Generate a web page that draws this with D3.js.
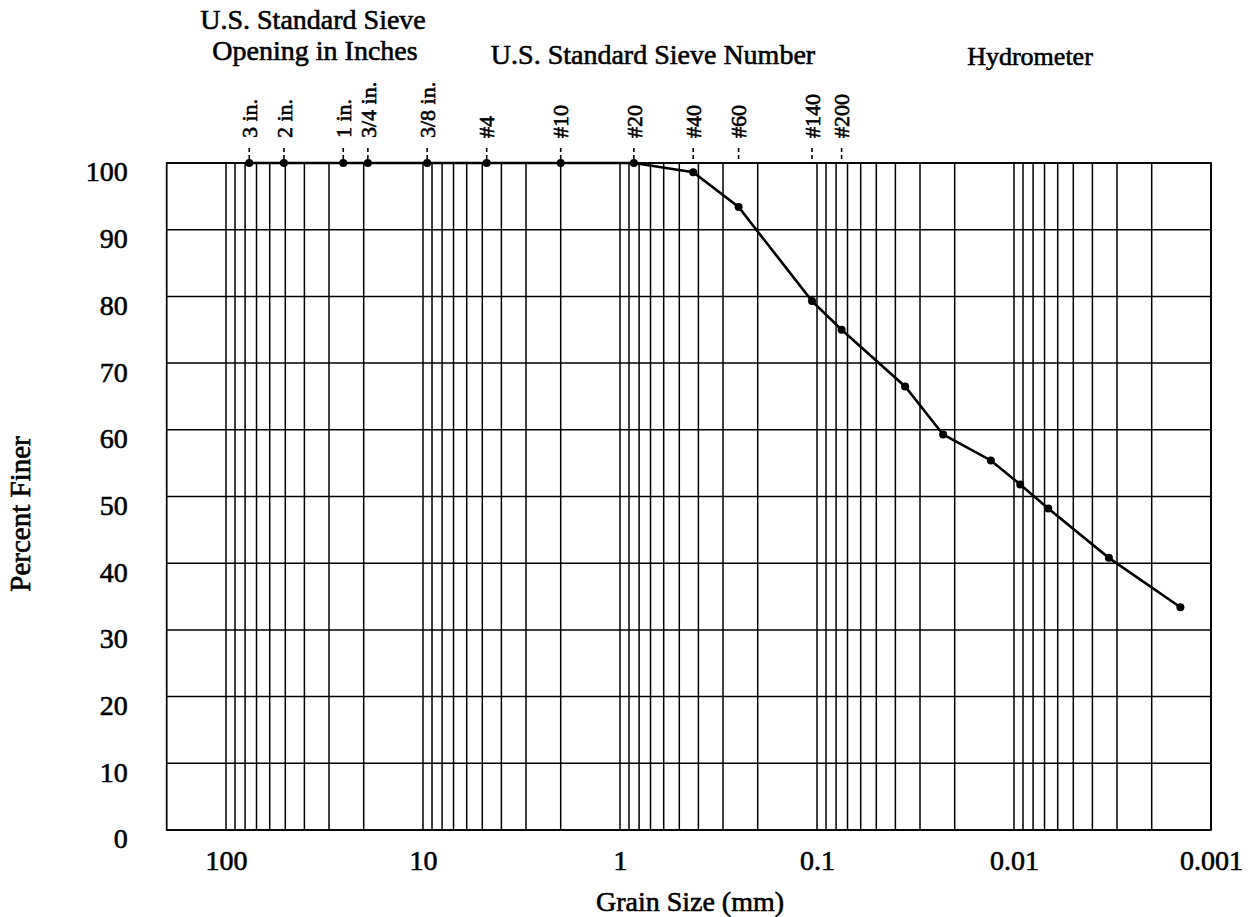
<!DOCTYPE html>
<html>
<head>
<meta charset="utf-8">
<script src="https://cdn.jsdelivr.net/npm/d3@7"></script>
<style>
  body { margin: 0; background: #fff; }
  svg { display: block; font-family: "Liberation Serif", "Times New Roman", serif; }
  svg text { fill: #000; stroke: #000; stroke-width: 0.6; }
  .grid line { stroke: #000; stroke-width: 1.5; }
</style>
</head>
<body>
<svg id="chart" width="1250" height="917"></svg>
<script>
// sieve analysis
var sieveLabels = ["3 in.", "2 in.", "1 in.", "3/4 in.", "3/8 in.", "#4", "#10", "#20", "#40", "#60", "#140", "#200"];
var sieveSizes = [76.2, 50.8, 25.4, 19.05, 9.525, 4.75, 2.0, 0.85, 0.425, 0.25, 0.106, 0.075];
var sievePercent = [100, 100, 100, 100, 100, 100, 100, 100, 98.6, 93.4, 79.3, 75.0];

// hydrometer readings
var hydroSizes = [0.0357, 0.0229, 0.0131, 0.0093, 0.0067, 0.0033, 0.00143];
var hydroPercent = [66.5, 59.3, 55.4, 51.8, 48.2, 40.8, 33.4];

// axes
var xTicks = [100, 10, 1, 0.1, 0.01, 0.001];
var xTickLabels = ["100", "10", "1", "0.1", "0.01", "0.001"];
var yTicks = [0, 10, 20, 30, 40, 50, 60, 70, 80, 90, 100];

var svg = d3.select('#chart');

var x = d3.scaleLog().domain([100, 0.001]).range([226, 1211]),
  y = d3.scaleLinear().domain([0, 100]).range([830, 163]),
  xMin = 200, xMax = 0.001;

var pLeft = x(xMin), pRight = x(xMax), pTop = y(100), pBottom = y(0);

// vertical grid: 1..9 x each decade
var vLines = [];
d3.range(-3, 2).forEach(function(k) {
  d3.range(1, 10).forEach(function(i) {
    var v = i * Math.pow(10, k);
    if (v <= xMin && v >= xMax) vLines.push(+v.toPrecision(3));
  });
});
vLines.push(100);

var grid = svg.append('g').attr('class', 'grid');
grid.selectAll('line.v').data(vLines)
  .enter().append('line')
    .attr('class', 'v')
    .attr('x1', function(d) { return x(d); })
    .attr('x2', function(d) { return x(d); })
    .attr('y1', pTop)
    .attr('y2', pBottom);

grid.selectAll('line.h').data(yTicks)
  .enter().append('line')
    .attr('class', 'h')
    .attr('x1', pLeft)
    .attr('x2', pRight)
    .attr('y1', function(d) { return y(d); })
    .attr('y2', function(d) { return y(d); });

svg.append('rect')
  .attr('x', pLeft).attr('y', pTop)
  .attr('width', pRight - pLeft).attr('height', pBottom - pTop)
  .attr('fill', 'none').attr('stroke', '#000').attr('stroke-width', 1.7);

// tick labels
var yAxis = svg.append('g')
  .attr('transform', 'translate(' + pLeft + ',0)')
  .call(d3.axisLeft(y).tickValues(yTicks).tickSize(0).tickPadding(39));
yAxis.attr('font-family', null).attr('font-size', 28);
yAxis.select('.domain').remove();
yAxis.selectAll('text').attr('y', 9).attr('fill', null);

var xAxis = svg.append('g')
  .attr('transform', 'translate(0,' + pBottom + ')')
  .call(d3.axisBottom(x).tickValues(xTicks).tickSize(0)
    .tickFormat(function(d, i) { return xTickLabels[i]; }));
xAxis.attr('font-family', null).attr('font-size', 28);
xAxis.select('.domain').remove();
xAxis.selectAll('text').attr('y', 40).attr('dy', 0).attr('fill', null);

// axis titles
svg.append('text')
  .attr('x', 690).attr('y', 911)
  .attr('text-anchor', 'middle')
  .attr('font-size', 28)
  .text('Grain Size (mm)');

svg.append('text')
  .attr('transform', 'translate(30,514) rotate(-90)')
  .attr('text-anchor', 'middle')
  .attr('font-size', 29)
  .text('Percent Finer');

// header titles
var head = svg.append('g').attr('font-size', 28).attr('text-anchor', 'middle');
head.append('text').attr('x', 313).attr('y', 28.5).text('U.S. Standard Sieve');
head.append('text').attr('x', 315).attr('y', 60).text('Opening in Inches');
head.append('text').attr('x', 653).attr('y', 64).text('U.S. Standard Sieve Number');
svg.append('text')
  .attr('x', 1030).attr('y', 65)
  .attr('text-anchor', 'middle')
  .attr('font-size', 26)
  .text('Hydrometer');

// sieve markers above plot
var sieves = sieveSizes.map(function(s, i) { return { size: s, label: sieveLabels[i] }; });
var sg = svg.selectAll('g.sieve').data(sieves)
  .enter().append('g')
    .attr('class', 'sieve')
    .attr('transform', function(d) { return 'translate(' + x(d.size) + ',0)'; });

sg.append('line')
  .attr('y1', 148).attr('y2', pTop)
  .attr('stroke', '#000').attr('stroke-width', 1.6)
  .attr('stroke-dasharray', '4,3');

sg.append('text')
  .attr('transform', 'translate(0,138) rotate(-90)')
  .attr('dy', '0.35em')
  .attr('font-size', 22)
  .attr('stroke-width', 0.4)
  .text(function(d) { return d.label; });

// gradation curve
var points = sieveSizes.map(function(s, i) { return [s, sievePercent[i]]; })
  .concat(hydroSizes.map(function(s, i) { return [s, hydroPercent[i]]; }));

var line = d3.line()
  .x(function(d) { return x(d[0]); })
  .y(function(d) { return y(d[1]); });

svg.append('path')
  .datum(points)
  .attr('d', line)
  .attr('fill', 'none')
  .attr('stroke', '#000')
  .attr('stroke-width', 2.6);

svg.selectAll('circle.pt').data(points)
  .enter().append('circle')
    .attr('class', 'pt')
    .attr('cx', function(d) { return x(d[0]); })
    .attr('cy', function(d) { return y(d[1]); })
    .attr('r', 4)
    .attr('fill', '#000');
</script>
</body>
</html>
